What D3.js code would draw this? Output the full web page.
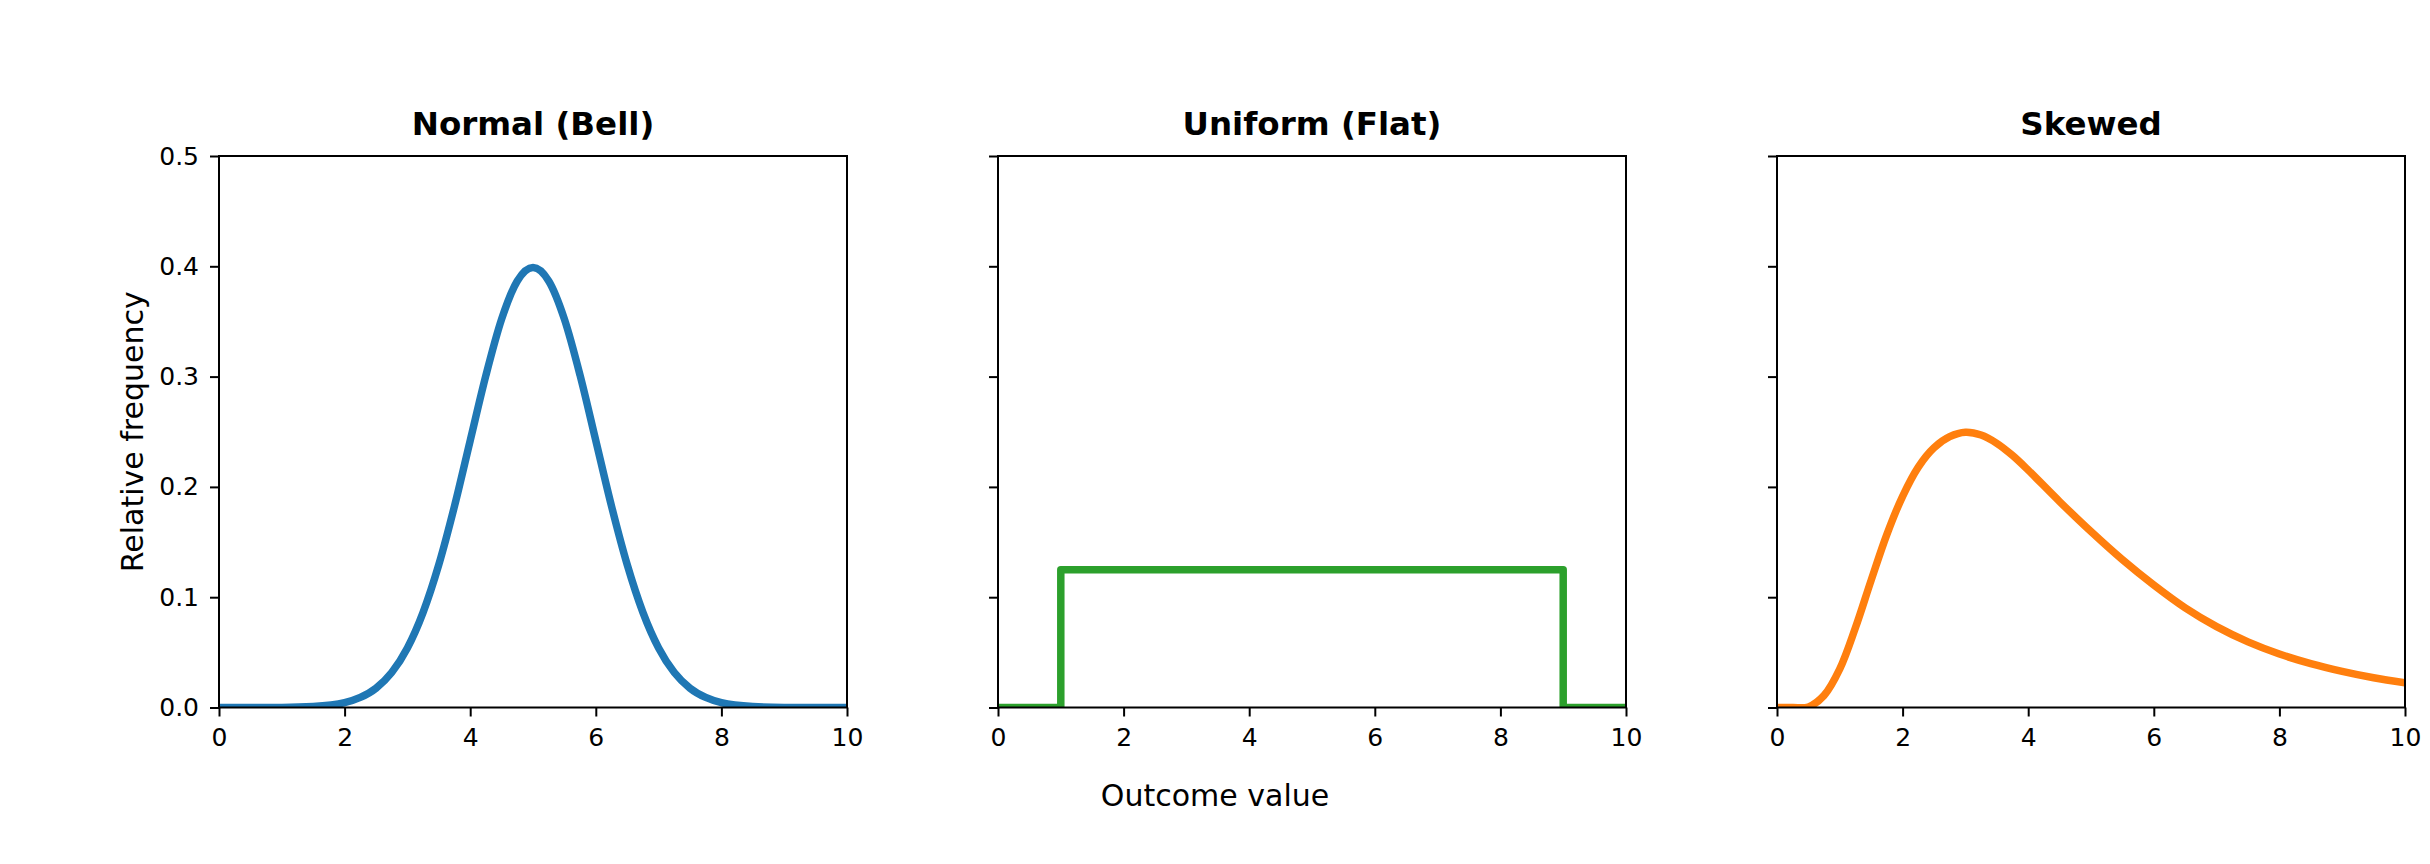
<!DOCTYPE html>
<html>
<head>
<meta charset="utf-8">
<script src="https://cdn.jsdelivr.net/npm/d3@7"></script>
<style>
    body { margin: 0; background: white; }
    text { font-family: "DejaVu Sans", sans-serif; fill: black; }
</style>
</head>
<body>
<div class="chart-area"></div>
<script>
// Data
var normalX = [0, 0.5, 1, 1.5, 2, 2.25, 2.5, 2.75, 3, 3.25, 3.5, 3.75, 4, 4.25, 4.5, 4.75, 5,
    5.25, 5.5, 5.75, 6, 6.25, 6.5, 6.75, 7, 7.25, 7.5, 7.75, 8, 8.5, 9, 9.5, 10];
var normalY = [0, 0, 0.0001, 0.0009, 0.0044, 0.0091, 0.0175, 0.0317, 0.054, 0.0863, 0.1295, 0.1826, 0.242, 0.3011, 0.3521, 0.3867, 0.3989,
    0.3867, 0.3521, 0.3011, 0.242, 0.1826, 0.1295, 0.0863, 0.054, 0.0317, 0.0175, 0.0091, 0.0044, 0.0009, 0.0001, 0, 0];

var uniformX = [0, 1, 9, 10];
var uniformY = [0, 0.125, 0, 0];

var skewedX = [0, 0.25, 0.5, 0.75, 1, 1.25, 1.5, 1.75, 2, 2.25, 2.5, 2.75, 3, 3.25, 3.5, 3.75, 4,
    4.5, 5, 5.5, 6, 6.5, 7, 7.5, 8, 8.5, 9, 9.5, 10];
var skewedY = [0, 0, 0.0005, 0.011, 0.035, 0.0725, 0.1155, 0.157, 0.1915, 0.218, 0.2355, 0.2455, 0.2495, 0.247, 0.2395, 0.2285, 0.2152,
    0.1867, 0.1595, 0.134, 0.111, 0.0903, 0.0733, 0.0595, 0.0485, 0.0398, 0.0328, 0.0270, 0.0225];

var titles = ["Normal (Bell)", "Uniform (Flat)", "Skewed"];
var colors = ["#1f77b4", "#2ca02c", "#ff7f0e"];
var xTicks = [0, 2, 4, 6, 8, 10];
var yTicks = [0, 0.1, 0.2, 0.3, 0.4, 0.5];

var panels = [
    { x: normalX, y: normalY, curve: d3.curveMonotoneX },
    { x: uniformX, y: uniformY, curve: d3.curveStepAfter },
    { x: skewedX, y: skewedY, curve: d3.curveCatmullRom.alpha(0.5) }
];

var W = 2430, H = 864;
var panelLeft = [219, 998, 1777];
var panelW = 628, plotTop = 156, plotBottom = 707.5;

var svg = d3.select(".chart-area").append("svg")
    .attr("width", W)
    .attr("height", H)
    .style("display", "block");

svg.append("rect").attr("width", W).attr("height", H).attr("fill", "white");

var y = d3.scaleLinear().domain([0, 0.5]).range([plotBottom, plotTop]);

panels.forEach(function(p, i) {
    var x = d3.scaleLinear().domain([0, 10]).range([0, panelW]);
    var g = svg.append("g").attr("transform", "translate(" + panelLeft[i] + ",0)");

    g.append("clipPath").attr("id", "clip" + i)
        .append("rect")
        .attr("x", 0).attr("y", plotTop)
        .attr("width", panelW).attr("height", plotBottom - plotTop);

    var pts = p.x.map(function(d, k) { return [d, p.y[k]]; });
    var line = d3.line()
        .x(function(d) { return x(d[0]); })
        .y(function(d) { return y(d[1]); })
        .curve(p.curve);

    g.append("path")
        .datum(pts)
        .attr("clip-path", "url(#clip" + i + ")")
        .attr("d", line)
        .attr("fill", "none")
        .attr("stroke", colors[i])
        .attr("stroke-width", 7.5)
        .attr("stroke-linejoin", "round");

    // frame
    g.append("rect")
        .attr("x", 0).attr("y", plotTop)
        .attr("width", panelW).attr("height", plotBottom - plotTop)
        .attr("fill", "none")
        .attr("stroke", "black")
        .attr("stroke-width", 2);

    // x axis
    var xAxis = d3.axisBottom(x).tickValues(xTicks).tickSize(9).tickPadding(12)
        .tickFormat(d3.format("d"));
    var gx = g.append("g").attr("transform", "translate(0," + plotBottom + ")").call(xAxis);
    gx.attr("font-size", "25px").attr("font-family", "DejaVu Sans");
    gx.select(".domain").remove();
    gx.selectAll("line").attr("stroke-width", 2);

    // y axis
    var yAxis = d3.axisLeft(y).tickValues(yTicks).tickSize(9).tickPadding(11)
        .tickFormat(i === 0 ? d3.format(".1f") : "");
    var gy = g.append("g").call(yAxis);
    gy.attr("font-size", "25px").attr("font-family", "DejaVu Sans");
    gy.select(".domain").remove();
    gy.selectAll("line").attr("stroke-width", 2);

    g.append("text")
        .attr("x", panelW / 2)
        .attr("y", 135)
        .attr("text-anchor", "middle")
        .style("font-size", "32.5px")
        .style("font-weight", "bold")
        .text(titles[i]);
});

svg.append("text")
    .attr("x", W / 2)
    .attr("y", 806)
    .attr("text-anchor", "middle")
    .style("font-size", "30px")
    .text("Outcome value");

svg.append("text")
    .attr("transform", "translate(143," + ((plotTop + plotBottom) / 2) + ") rotate(-90)")
    .attr("text-anchor", "middle")
    .style("font-size", "30px")
    .text("Relative frequency");
</script>
</body>
</html>
